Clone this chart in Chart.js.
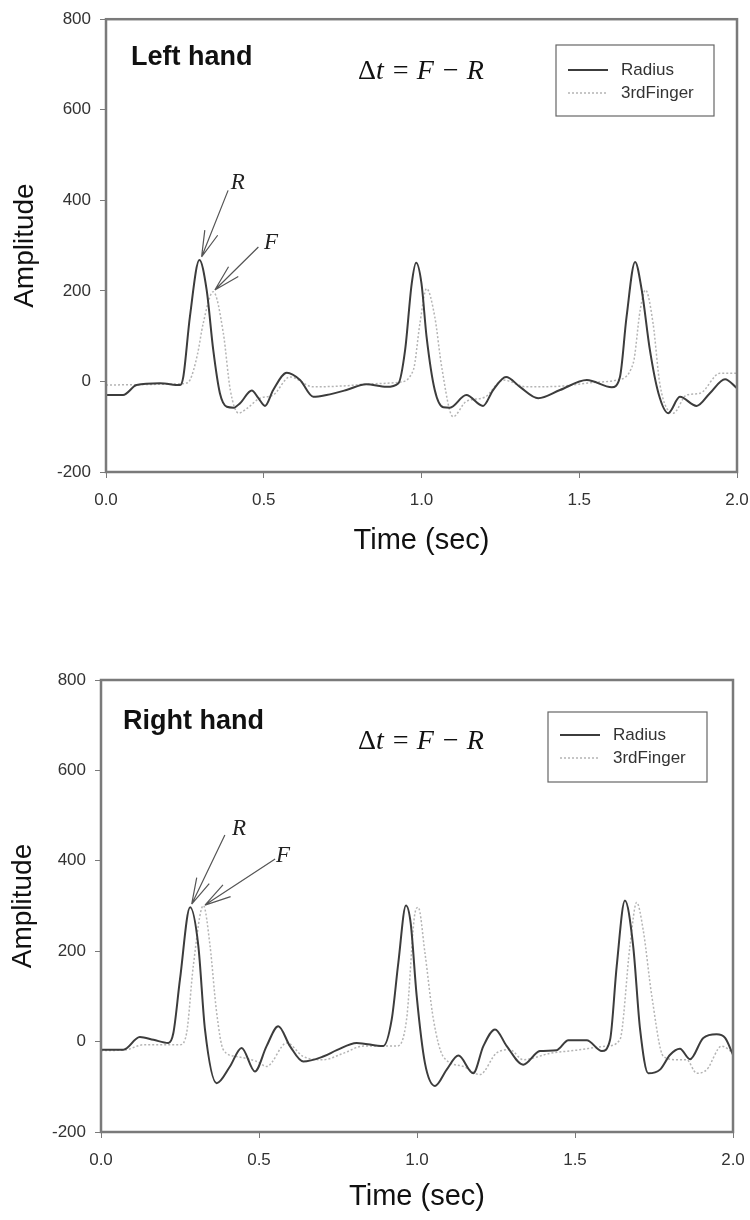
<!DOCTYPE html>
<html>
<head>
<meta charset="utf-8">
<script src="https://cdn.jsdelivr.net/npm/chart.js@4.4.1/dist/chart.umd.min.js"></script>
<style>
  body { margin: 0; background: #fff; }
  .wrap { position: absolute; left: 0; width: 750px; height: 610px; }
</style>
</head>
<body>
<div class="wrap" style="top:0"><canvas id="leftHand" width="750" height="610"></canvas></div>
<div class="wrap" style="top:610px"><canvas id="rightHand" width="750" height="610"></canvas></div>
<script>
// series names and axis ticks
const seriesNames = ['Radius', '3rdFinger'];
const timeTicks = [0, 0.5, 1.0, 1.5, 2.0];
const ampTicks = [-200, 0, 200, 400, 600, 800];

// left hand - radius (solid)
const leftTimeR = [0.00, 0.054, 0.097, 0.171, 0.235, 0.245, 0.266, 0.296, 0.319, 0.340, 0.361, 0.383, 0.404, 0.425, 0.462, 0.483, 0.504, 0.530, 0.573, 0.615, 0.657, 0.699, 0.762, 0.825, 0.889, 0.927, 0.948, 0.969, 0.983, 1.000, 1.016, 1.042, 1.069, 1.090, 1.142, 1.195, 1.227, 1.268, 1.312, 1.370, 1.439, 1.524, 1.603, 1.629, 1.650, 1.677, 1.698, 1.724, 1.751, 1.782, 1.819, 1.872, 1.914, 1.962, 2.000];
const leftRadius = [-30, -30, -8, -4, -8, 10, 143, 268, 202, 69, -26, -56, -58, -48, -20, -37, -54, -19, 19, 3, -34, -30, -19, -6, -12, -4, 69, 216, 262, 216, 99, -19, -57, -58, -30, -54, -19, 10, -12, -37, -19, 3, -13, 10, 143, 264, 202, 69, -26, -70, -34, -54, -26, 5, -15];

// left hand - 3rd finger (dotted)
const leftTimeF = [0.00, 0.20, 0.25, 0.266, 0.290, 0.308, 0.340, 0.372, 0.394, 0.420, 0.446, 0.488, 0.530, 0.583, 0.657, 0.750, 0.850, 0.927, 0.974, 0.995, 1.016, 1.042, 1.064, 1.100, 1.142, 1.200, 1.259, 1.333, 1.450, 1.550, 1.619, 1.671, 1.693, 1.710, 1.734, 1.756, 1.798, 1.840, 1.883, 1.946, 2.000];
const leftFinger = [-8, -6, -4, 3, 60, 128, 198, 106, -19, -70, -60, -37, -30, 10, -12, -10, -5, -2, 25, 128, 205, 143, 32, -78, -44, -35, 3, -12, -10, -2, 3, 40, 157, 202, 128, -8, -70, -30, -26, 18, 18];

// right hand - radius (solid)
const rightTimeR = [0.00, 0.071, 0.123, 0.166, 0.213, 0.229, 0.250, 0.282, 0.308, 0.329, 0.366, 0.408, 0.445, 0.487, 0.524, 0.561, 0.598, 0.640, 0.703, 0.746, 0.809, 0.893, 0.920, 0.941, 0.965, 0.980, 0.999, 1.025, 1.057, 1.094, 1.131, 1.178, 1.210, 1.247, 1.284, 1.336, 1.389, 1.442, 1.479, 1.537, 1.585, 1.611, 1.632, 1.658, 1.684, 1.706, 1.732, 1.769, 1.801, 1.832, 1.864, 1.906, 1.948, 1.975, 2.000];
const rightRadius = [-18, -18, 10, 4, -3, 19, 138, 297, 212, 27, -92, -55, -14, -66, -10, 34, -10, -44, -33, -19, -3, -10, 49, 175, 301, 262, 101, -47, -98, -62, -31, -70, -10, 27, -10, -51, -21, -19, 3, 3, -21, 4, 167, 312, 212, 27, -70, -62, -29, -16, -39, 8, 16, 8, -29];

// right hand - 3rd finger (dotted)
const rightTimeF = [0.00, 0.080, 0.134, 0.250, 0.271, 0.292, 0.324, 0.345, 0.366, 0.387, 0.429, 0.493, 0.524, 0.588, 0.640, 0.703, 0.767, 0.830, 0.936, 0.967, 0.994, 1.004, 1.025, 1.052, 1.083, 1.147, 1.199, 1.252, 1.294, 1.336, 1.421, 1.505, 1.600, 1.642, 1.674, 1.695, 1.716, 1.743, 1.780, 1.822, 1.853, 1.885, 1.917, 1.964, 2.000];
const rightFinger = [-20, -18, -7, -7, 19, 167, 301, 212, 64, -18, -33, -44, -55, -3, -33, -40, -26, -10, -10, 49, 286, 297, 197, 49, -33, -55, -73, -25, -18, -40, -26, -19, -10, 4, 212, 308, 246, 101, -33, -40, -40, -70, -62, -10, -25];

function pts(ts, vs) {
  return ts.map((t, i) => ({ x: t, y: vs[i] }));
}

const AXIS_COL = '#7a7a7a';
const TEXT_COL = '#333';

// frame, labels, legend box and arrows
const annotate = {
  id: 'annotate',
  afterDatasetsDraw(chart, args, o) {
    const ctx = chart.ctx;
    const a = chart.chartArea;
    const xs = chart.scales.x, ys = chart.scales.y;
    ctx.save();

    // plot frame
    ctx.strokeStyle = AXIS_COL;
    ctx.lineWidth = 2.5;
    ctx.strokeRect(a.left, a.top, a.right - a.left, a.bottom - a.top);

    // panel title
    ctx.fillStyle = '#111';
    ctx.font = 'bold 27px Arial, "Liberation Sans", sans-serif';
    ctx.textBaseline = 'middle';
    ctx.textAlign = 'left';
    ctx.fillText(o.title, o.titleX, o.titleY);

    // delta t formula
    const up = '28px "Liberation Serif", "Times New Roman", serif';
    const it = 'italic 28px "Liberation Serif", "Times New Roman", serif';
    const rest = 't = F \u2212 R';
    ctx.font = up; const w1 = ctx.measureText('\u0394').width;
    ctx.font = it; const w2 = ctx.measureText(rest).width;
    let sx = o.formulaX - (w1 + w2) / 2;
    ctx.font = up; ctx.fillText('\u0394', sx, o.formulaY);
    ctx.font = it; ctx.fillText(rest, sx + w1, o.formulaY);

    // arrows
    ctx.strokeStyle = '#555';
    ctx.lineWidth = 1.2;
    o.arrows.forEach(ar => {
      const tx = xs.getPixelForValue(ar.tail[0]), ty = ys.getPixelForValue(ar.tail[1]);
      const px = xs.getPixelForValue(ar.tip[0]), py = ys.getPixelForValue(ar.tip[1]);
      const ang = Math.atan2(ty - py, tx - px);
      ctx.beginPath();
      ctx.moveTo(tx, ty); ctx.lineTo(px, py);
      [-0.26, 0.26].forEach(d => {
        ctx.moveTo(px, py);
        ctx.lineTo(px + 27 * Math.cos(ang + d), py + 27 * Math.sin(ang + d));
      });
      ctx.stroke();
    });
    ctx.fillStyle = '#222';
    ctx.font = 'italic 23px "Liberation Serif", "Times New Roman", serif';
    ctx.textAlign = 'center';
    o.marks.forEach(m => {
      ctx.fillText(m.text, xs.getPixelForValue(m.at[0]), ys.getPixelForValue(m.at[1]));
    });

    // legend box
    const L = o.legend;
    ctx.strokeStyle = '#666';
    ctx.lineWidth = 1.2;
    ctx.strokeRect(L.x, L.y, L.w, L.h);
    const styles = chart.data.datasets;
    ctx.font = '17px Arial, "Liberation Sans", sans-serif';
    ctx.textAlign = 'left';
    ctx.fillStyle = TEXT_COL;
    styles.forEach((ds, i) => {
      const yy = L.y + L.row0 + i * L.rowGap;
      ctx.beginPath();
      ctx.strokeStyle = ds.borderColor;
      ctx.lineWidth = ds.borderWidth;
      ctx.setLineDash(ds.borderDash || []);
      ctx.moveTo(L.x + 12, yy); ctx.lineTo(L.x + 52, yy);
      ctx.stroke();
      ctx.setLineDash([]);
      ctx.fillText(ds.label, L.x + 65, yy);
    });
    ctx.restore();
  }
};

function makeChart(id, timeR, radius, timeF, finger, cfg) {
  return new Chart(document.getElementById(id), {
    type: 'line',
    data: {
      datasets: [
        {
          label: seriesNames[0],
          data: pts(timeR, radius),
          borderColor: '#3c3c3c',
          borderWidth: 2,
          pointRadius: 0,
          cubicInterpolationMode: 'monotone'
        },
        {
          label: seriesNames[1],
          data: pts(timeF, finger),
          borderColor: '#b4b4b4',
          borderWidth: 1.5,
          borderDash: [2, 2],
          pointRadius: 0,
          cubicInterpolationMode: 'monotone'
        }
      ]
    },
    options: {
      responsive: false,
      animation: false,
      layout: { padding: cfg.padding },
      plugins: {
        legend: { display: false },
        tooltip: { enabled: false },
        annotate: cfg.notes
      },
      scales: {
        x: {
          type: 'linear',
          min: 0, max: 2,
          afterBuildTicks: s => { s.ticks = timeTicks.map(v => ({ value: v })); },
          afterFit: s => { s.height = cfg.xHeight; s.paddingLeft = 0; s.paddingRight = 0; },
          grid: { display: true, drawOnChartArea: false, drawTicks: true, tickLength: 6, color: AXIS_COL },
          border: { display: false },
          ticks: {
            padding: 12,
            color: TEXT_COL,
            font: { family: 'Arial, "Liberation Sans", sans-serif', size: 17 },
            callback: v => v.toFixed(1)
          },
          title: {
            display: true,
            text: 'Time (sec)',
            color: '#111',
            font: { family: 'Arial, "Liberation Sans", sans-serif', size: 29 },
            padding: { top: 0, bottom: cfg.xTitlePad }
          }
        },
        y: {
          min: -200, max: 800,
          afterBuildTicks: s => { s.ticks = ampTicks.map(v => ({ value: v })); },
          afterFit: s => { s.width = cfg.yWidth; },
          grid: { display: true, drawOnChartArea: false, drawTicks: true, tickLength: 6, color: AXIS_COL },
          border: { display: false },
          ticks: {
            padding: 9,
            color: TEXT_COL,
            font: { family: 'Arial, "Liberation Sans", sans-serif', size: 17 }
          },
          title: {
            display: true,
            text: 'Amplitude',
            color: '#111',
            font: { family: 'Arial, "Liberation Sans", sans-serif', size: 28 },
            padding: { top: cfg.yTitlePad, bottom: 0 }
          }
        }
      }
    },
    plugins: [annotate]
  });
}

makeChart('leftHand', leftTimeR, leftRadius, leftTimeF, leftFinger, {
  padding: { top: 19, right: 13, left: 0, bottom: 0 },
  xHeight: 138, yWidth: 106, xTitlePad: 52, yTitlePad: 8,
  notes: {
    title: 'Left hand', titleX: 131, titleY: 58,
    formulaX: 421, formulaY: 72,
    arrows: [{ tail: [0.387, 422], tip: [0.303, 275] }, { tail: [0.483, 297], tip: [0.345, 202] }],
    marks: [{ text: 'R', at: [0.418, 438] }, { text: 'F', at: [0.523, 305] }],
    legend: { x: 556, y: 45, w: 158, h: 71, row0: 25, rowGap: 23 }
  }
});

makeChart('rightHand', rightTimeR, rightRadius, rightTimeF, rightFinger, {
  padding: { top: 70, right: 17, left: 0, bottom: 0 },
  xHeight: 88, yWidth: 101, xTitlePad: 6, yTitlePad: 6,
  notes: {
    title: 'Right hand', titleX: 123, titleY: 112,
    formulaX: 421, formulaY: 132,
    arrows: [{ tail: [0.392, 457], tip: [0.287, 304] }, { tail: [0.551, 404], tip: [0.329, 302] }],
    marks: [{ text: 'R', at: [0.437, 471] }, { text: 'F', at: [0.576, 410] }],
    legend: { x: 548, y: 102, w: 159, h: 70, row0: 23, rowGap: 23 }
  }
});
</script>
</body>
</html>
